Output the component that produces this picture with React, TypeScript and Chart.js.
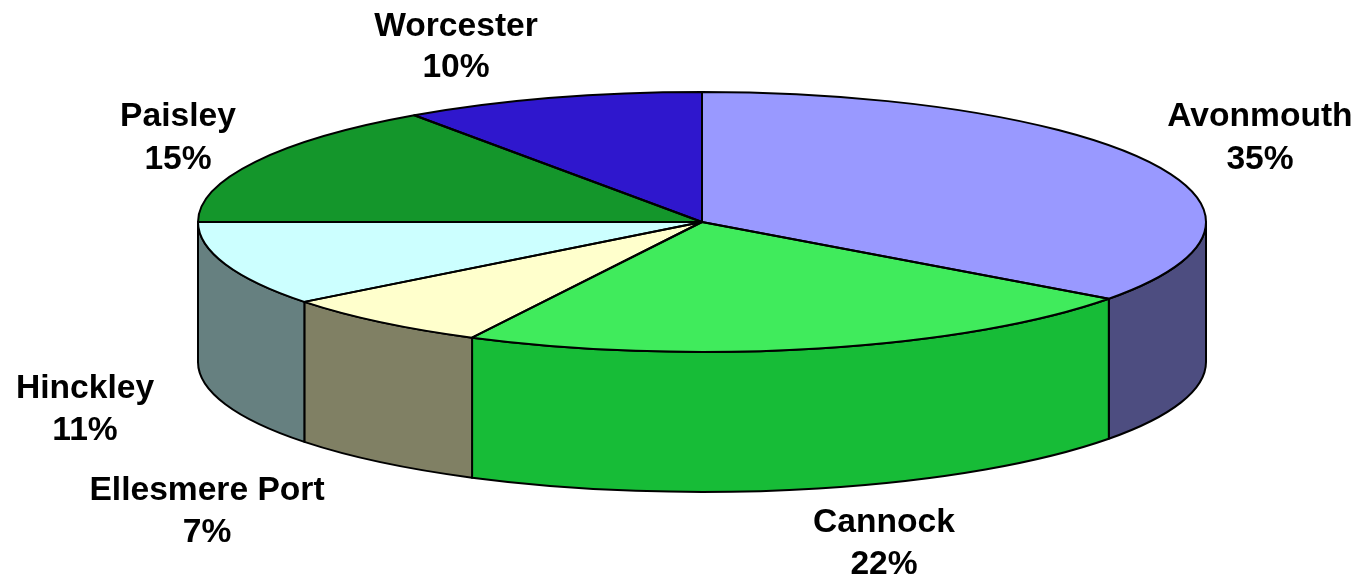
import React, { useEffect, useRef } from "react";
import { Chart, registerables } from "chart.js";

Chart.register(...registerables);

const categories = ["Avonmouth", "Cannock", "Ellesmere Port", "Hinckley", "Paisley", "Worcester"];
const shares = [35.05, 22.49, 6.93, 10.53, 15.33, 9.67];
const topColors = ["#9999FF", "#40EB5C", "#FFFFCC", "#CCFFFF", "#14962B", "#2F17CD"];
const wallColors = ["#4D4D80", "#17BC37", "#808064", "#668080", "#0A4B15", "#180C66"];

const RADIUS_X = 504;
const SQUASH = 130 / 504;
const DEPTH = 140;
const FONT = 'bold 33.6px "Liberation Sans", Arial, sans-serif';
const LINE_WIDTH = 2;
const labelBaselines: Record<string, [number, number, number]> = {
  Avonmouth: [1260, 126, 169],
  Cannock: [884, 532, 574],
  "Ellesmere Port": [207, 500, 542],
  Hinckley: [85, 398, 440],
  Paisley: [178, 126, 169],
  Worcester: [456, 36, 77],
};

const pie3d = {
  id: "pie3d",
  beforeDatasetsDraw(chart: any) {
    const { ctx } = chart;
    const arcs = chart.getDatasetMeta(0).data;
    const cx = arcs[0].x;
    const cy = arcs[0].y;
    const ry = arcs[0].outerRadius * SQUASH;
    const rx = arcs[0].outerRadius;
    ctx.save();
    ctx.lineWidth = LINE_WIDTH;
    ctx.strokeStyle = "#000";
    ctx.lineJoin = "round";
    arcs.forEach((arc: any, i: number) => {
      const a = Math.max(arc.startAngle, 0);
      const b = Math.min(arc.endAngle, Math.PI);
      if (b <= a) return;
      ctx.beginPath();
      ctx.ellipse(cx, cy, rx, ry, 0, a, b);
      ctx.ellipse(cx, cy + DEPTH, rx, ry, 0, b, a, true);
      ctx.closePath();
      ctx.fillStyle = wallColors[i];
      ctx.fill();
      ctx.stroke();
    });
    ctx.restore();
    ctx.save();
    ctx.translate(cx, cy);
    ctx.scale(1, SQUASH);
    ctx.translate(-cx, -cy);
  },
  afterDatasetsDraw(chart: any) {
    const { ctx } = chart;
    ctx.restore();
    const arcs = chart.getDatasetMeta(0).data;
    const cx = arcs[0].x;
    const cy = arcs[0].y;
    const rx = arcs[0].outerRadius;
    const ry = rx * SQUASH;
    ctx.save();
    ctx.lineWidth = LINE_WIDTH;
    ctx.strokeStyle = "#000";
    ctx.lineJoin = "round";
    arcs.forEach((arc: any) => {
      ctx.beginPath();
      ctx.moveTo(cx, cy);
      ctx.ellipse(cx, cy, rx, ry, 0, arc.startAngle, arc.endAngle);
      ctx.closePath();
      ctx.stroke();
    });
    ctx.fillStyle = "#000";
    ctx.font = FONT;
    ctx.textAlign = "center";
    ctx.textBaseline = "alphabetic";
    categories.forEach((name, i) => {
      const [x, nameY, valueY] = labelBaselines[name];
      ctx.fillText(name, x, nameY);
      ctx.fillText(`${shares[i].toFixed(0)}%`, x, valueY);
    });
    ctx.restore();
  },
};

export default function App() {
  const ref = useRef<HTMLCanvasElement>(null);
  useEffect(() => {
    const chart = new Chart(ref.current as HTMLCanvasElement, {
      type: "pie",
      data: {
        labels: categories,
        datasets: [
          {
            data: shares,
            backgroundColor: topColors,
            borderWidth: 0,
            clip: false,
          } as any,
        ],
      },
      options: {
        responsive: false,
        animation: false,
        radius: RADIUS_X,
        layout: { padding: { left: 32, bottom: 131 } },
        plugins: { legend: { display: false }, tooltip: { enabled: false } },
      } as any,
      plugins: [pie3d],
    });
    return () => chart.destroy();
  }, []);
  return (
    <div style={{ position: "absolute", left: 0, top: 0, width: 1372, height: 575, background: "#fff" }}>
      <canvas ref={ref} width={1372} height={575} style={{ display: "block" }} />
    </div>
  );
}
